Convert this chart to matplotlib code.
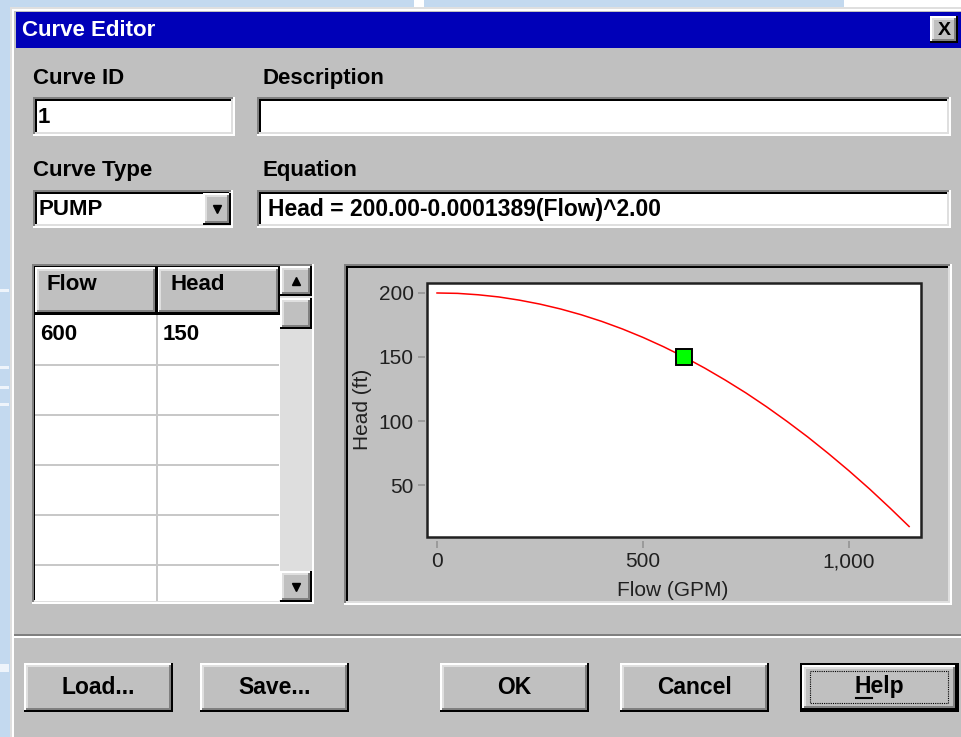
import matplotlib
matplotlib.use("Agg")
import matplotlib.pyplot as plt
from matplotlib.patches import Rectangle

# pump curve points
flow = [0, 50, 100, 150, 200, 250, 300, 350, 400, 450, 500, 550, 600,
        650, 700, 750, 800, 850, 900, 950, 1000, 1050, 1100, 1146]
head = [200, 199.7, 198.6, 196.9, 194.4, 191.3, 187.5, 183.0, 177.8, 171.9,
        165.3, 158.0, 150, 141.3, 131.9, 121.9, 111.1, 99.6, 87.5, 74.6,
        61.1, 46.9, 31.9, 17.6]
pt_flow = [600]
pt_head = [150]

xticks = [0, 500, 1000]
xtick_labels = ["0", "500", "1,000"]
yticks = [50, 100, 150, 200]
ytick_labels = ["50", "100", "150", "200"]

table_cols = ["Flow", "Head"]
table_flow = ["600"]
table_head = ["150"]

curve_id = "1"
curve_type = "PUMP"
equation = "Head = 200.00-0.0001389(Flow)^2.00"
buttons = ["Load...", "Save...", "OK", "Cancel", "Help"]

FACE = "#c0c0c0"
DARK = "#808080"
LIGHT = "#dfdfdf"
UI = ["Liberation Sans", "DejaVu Sans"]

fig = plt.figure(figsize=(9.61, 7.37), dpi=100)
bg = fig.add_axes([0, 0, 1, 1])
bg.set_xlim(0, 961)
bg.set_ylim(737, 0)
bg.axis("off")


def rect(x0, y0, x1, y1, color, z=1):
    bg.add_patch(Rectangle((x0, y0), x1 - x0, y1 - y0, facecolor=color,
                           edgecolor="none", zorder=z))


def bevel(x0, y0, x1, y1, face, tl_out, tl_in, br_out, br_in, w=2, z=1):
    rect(x0, y0, x1, y1, face, z)
    rect(x0, y0, x1, y0 + w, tl_out, z)
    rect(x0, y0, x0 + w, y1, tl_out, z)
    rect(x0 + w, y0 + w, x1 - w, y0 + 2 * w, tl_in, z)
    rect(x0 + w, y0 + w, x0 + 2 * w, y1 - w, tl_in, z)
    rect(x0, y1 - w, x1, y1, br_out, z)
    rect(x1 - w, y0, x1, y1, br_out, z)
    rect(x0 + w, y1 - 2 * w, x1 - w, y1 - w, br_in, z)
    rect(x1 - 2 * w, y0 + w, x1 - w, y1 - w, br_in, z)


def raised(x0, y0, x1, y1, z=1):
    bevel(x0, y0, x1, y1, FACE, "white", LIGHT, "black", DARK, z=z)


def sunken(x0, y0, x1, y1, face="white", z=1):
    bevel(x0, y0, x1, y1, face, DARK, "black", "white", LIGHT, z=z)


def label(x, y, s, size=16, ha="left", color="black", z=3):
    bg.text(x, y, s, fontsize=size, fontweight="bold", family=UI,
            ha=ha, va="center", color=color, zorder=z)


# desktop behind the dialog
rect(0, 0, 961, 737, "#c3d9ef", 0)
rect(414, 0, 424, 7, "white", 0)
rect(844, 0, 961, 7, "white", 0)
for y0, y1 in [(289, 292), (366, 369), (386, 389), (403, 406), (664, 672)]:
    rect(0, y0, 9, y1, "#eef4fb", 0)

# dialog frame and title bar
rect(10, 7, 961, 737, LIGHT, 0)
rect(12, 9, 961, 737, "white", 0)
rect(14, 11, 961, 737, FACE, 0)
rect(16, 12, 961, 48, "#0000b8", 1)
label(22, 30, "Curve Editor", size=16, color="white")
raised(930, 16, 958, 43, z=2)
label(944, 30, "X", size=14, ha="center")

# top fields
label(33, 78, "Curve ID")
label(263, 78, "Description")
sunken(33, 97, 235, 136)
sunken(257, 97, 951, 136)
label(38, 117, curve_id)

label(33, 170, "Curve Type")
label(263, 170, "Equation")
sunken(33, 190, 233, 228)
label(38, 209, curve_type)
raised(203, 193, 231, 225, z=2)
bg.plot([217], [209], marker="v", color="black", markersize=5.5, zorder=4)
sunken(257, 190, 951, 228)
label(268, 209, equation, size=16.5)

# data grid
sunken(32, 264, 314, 604, face="white")
rect(35, 267, 279, 601, "white", 1)
for y in [365, 415, 465, 515, 565]:
    rect(35, y - 1, 279, y + 1, "#c8c8c8", 2)
rect(156, 314, 158, 601, "#c8c8c8", 2)
raised(35, 267, 157, 314, z=2)
raised(157, 267, 280, 314, z=2)
rect(35, 312, 280, 315, "black", 3)
rect(155, 267, 158, 314, "black", 3)
label(47, 284, table_cols[0], z=4)
label(170, 284, table_cols[1], z=4)
for i, (f, h) in enumerate(zip(table_flow, table_head)):
    label(40, 334 + 50 * i, f)
    label(163, 334 + 50 * i, h)
rect(280, 267, 312, 601, "#dedede", 2)
raised(280, 266, 312, 296, z=3)
bg.plot([296], [281], marker="^", color="black", markersize=5.5, zorder=5)
raised(280, 298, 312, 329, z=3)
raised(280, 571, 312, 602, z=3)
bg.plot([296], [587], marker="v", color="black", markersize=5.5, zorder=5)

# chart panel
bevel(344, 264, 952, 605, FACE, DARK, "black", "white", LIGHT)

# separator and buttons
rect(14, 634, 961, 636, DARK, 1)
rect(14, 636, 961, 638, "white", 1)
bx = [(24, 173), (200, 349), (440, 589), (620, 769), (800, 959)]
for (x0, x1), name in zip(bx, buttons):
    if name == "Help":
        rect(x0, 663, x1, 712, "black", 1)
        raised(x0 + 2, 665, x1 - 2, 710, z=2)
        bg.add_patch(Rectangle((810, 671), 138, 32, fill=False,
                               edgecolor="black", linestyle=(0, (1, 1)),
                               linewidth=0.8, zorder=3))
        label((x0 + x1) / 2, 687, name, size=16.5, ha="center")
        bg.plot([856, 872], [698, 698], color="black", lw=1.5, zorder=4)
    else:
        raised(x0, 663, x1, 712)
        label((x0 + x1) / 2, 687, name, size=16.5, ha="center")

# the curve plot
ax = fig.add_axes([427 / 961, 1 - 537 / 737, 494 / 961, 254 / 737])
ax.set_facecolor("white")
ax.plot(flow, head, color="#ff0000", lw=1.1, zorder=2)
ax.plot(pt_flow, pt_head, marker="s", markersize=12, markerfacecolor="#00ff00",
        markeredgecolor="black", markeredgewidth=1.4, linestyle="none", zorder=3)
ax.set_xlim(-24.3, 1174.8)
ax.set_ylim(9.4, 207.8)
for s in ax.spines.values():
    s.set_visible(False)
ax.spines["bottom"].set_position(("outward", 3))
ax.spines["left"].set_position(("outward", 1.5))
ax.add_patch(Rectangle((0, 0), 1, 1, transform=ax.transAxes, fill=False,
                       edgecolor="#202020", linewidth=1.8, clip_on=False, zorder=5))
ax.set_xticks(xticks)
ax.set_xticklabels(xtick_labels)
ax.set_yticks(yticks)
ax.set_yticklabels(ytick_labels)
ax.tick_params(length=5, width=1.1, color="#909090", labelsize=15,
               labelcolor="#202020", pad=3)
for t in ax.get_xticklabels() + ax.get_yticklabels():
    t.set_family("Liberation Sans")
ax.set_xlabel("Flow (GPM)", fontsize=15, family="Liberation Sans",
              color="#202020", va="center")
ax.set_ylabel("Head (ft)", fontsize=15, family="Liberation Sans",
              color="#202020", va="center")
ax.xaxis.set_label_coords(0.498, -0.209)
ax.yaxis.set_label_coords(-0.130, 0.504)

fig.savefig("out.png", dpi=100)
